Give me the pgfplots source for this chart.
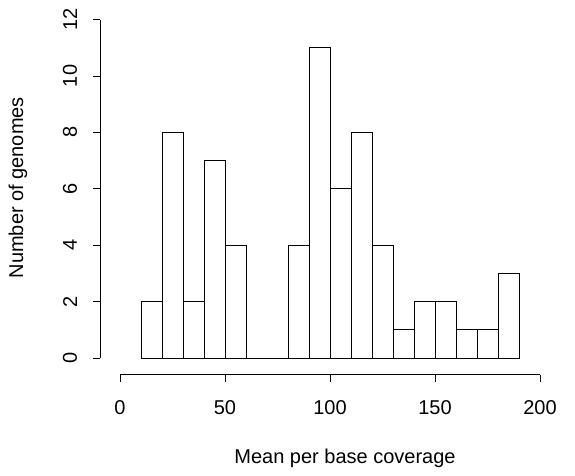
\documentclass[border=0pt]{standalone}
\usepackage{pgfplots}
\pgfplotsset{compat=1.18}
\usepackage{fontspec}
\setmainfont{Liberation Sans}
\begin{document}
\begin{tikzpicture}[x=1pt,y=1pt,font=\fontsize{20}{24}\selectfont]
\path[use as bounding box] (-99,-98.3) rectangle (476,377.7);
\begin{axis}[at={(0,0)},anchor=south west,scale only axis,width=451.5pt,height=363.8pt,
 xmin=-10,xmax=205,ymin=-0.7,ymax=12.2,axis lines=none,clip=false]
\addplot[ybar interval,fill=white,draw=black,line width=0.8pt] coordinates {
(10,2)(20,8)(30,2)(40,7)(50,4)(60,0)(70,0)(80,4)(90,11)(100,6)(110,8)(120,4)(130,1)(140,2)(150,2)(160,1)(170,1)(180,3)(190,3)};
\draw[line width=0.8pt] (axis cs:0,-0.6)--(axis cs:200,-0.6);
\pgfplotsinvokeforeach{0,50,100,150,200}{
 \draw[line width=0.8pt] (axis cs:#1,-0.6)--++(0pt,-7pt);
 \node at ([yshift=-33pt]axis cs:#1,-0.6) {#1};}
\draw[line width=0.8pt] (axis cs:-9.5,0)--(axis cs:-9.5,12);
\pgfplotsinvokeforeach{0,2,4,6,8,10,12}{
 \draw[line width=0.8pt] (axis cs:-9.5,#1)--++(-7pt,0pt);
 \node[rotate=90] at ([xshift=-30pt]axis cs:-9.5,#1) {#1};}
\end{axis}
\node at (246,-81) {Mean per base coverage};
\node[rotate=90] at (-81,190) {Number of genomes};
\end{tikzpicture}
\end{document}
